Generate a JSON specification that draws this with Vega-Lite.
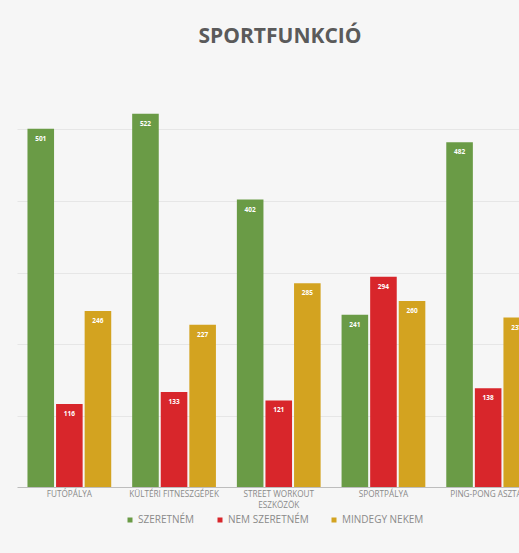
{
  "$schema": "https://vega.github.io/schema/vega-lite/v6.json",
  "autosize": {"type": "none"},
  "width": 502,
  "height": 429,
  "padding": {"left": 17, "top": 58, "right": 0, "bottom": 66},
  "background": "#f6f6f6",
  "config": {"view": {"stroke": null}},
  "title": {
    "text": "SPORTFUNKCIÓ",
    "font": "Open Sans",
    "fontSize": 21,
    "fontWeight": "bold",
    "color": "#5a5a5a",
    "anchor": "middle",
    "dx": 12,
    "offset": 11
  },
  "data": {
    "values": [
      {"kategoria": "FUTÓPÁLYA", "valasz": "SZERETNÉM", "ertek": 501},
      {"kategoria": "FUTÓPÁLYA", "valasz": "NEM SZERETNÉM", "ertek": 116},
      {"kategoria": "FUTÓPÁLYA", "valasz": "MINDEGY NEKEM", "ertek": 246},
      {"kategoria": "KÜLTÉRI FITNESZGÉPEK", "valasz": "SZERETNÉM", "ertek": 522},
      {"kategoria": "KÜLTÉRI FITNESZGÉPEK", "valasz": "NEM SZERETNÉM", "ertek": 133},
      {"kategoria": "KÜLTÉRI FITNESZGÉPEK", "valasz": "MINDEGY NEKEM", "ertek": 227},
      {"kategoria": "STREET WORKOUT ESZKÖZÖK", "valasz": "SZERETNÉM", "ertek": 402},
      {"kategoria": "STREET WORKOUT ESZKÖZÖK", "valasz": "NEM SZERETNÉM", "ertek": 121},
      {"kategoria": "STREET WORKOUT ESZKÖZÖK", "valasz": "MINDEGY NEKEM", "ertek": 285},
      {"kategoria": "SPORTPÁLYA", "valasz": "SZERETNÉM", "ertek": 241},
      {"kategoria": "SPORTPÁLYA", "valasz": "NEM SZERETNÉM", "ertek": 294},
      {"kategoria": "SPORTPÁLYA", "valasz": "MINDEGY NEKEM", "ertek": 260},
      {"kategoria": "PING-PONG ASZTAL", "valasz": "SZERETNÉM", "ertek": 482},
      {"kategoria": "PING-PONG ASZTAL", "valasz": "NEM SZERETNÉM", "ertek": 138},
      {"kategoria": "PING-PONG ASZTAL", "valasz": "MINDEGY NEKEM", "ertek": 237}
    ]
  },
  "encoding": {
    "x": {
      "field": "kategoria",
      "type": "nominal",
      "sort": null,
      "scale": {"range": [0, 523.5], "paddingInner": 0.2, "paddingOuter": 0.1},
      "axis": {
        "title": null,
        "labelAngle": 0,
        "labelFont": "Open Sans",
        "labelFontSize": 8.2,
        "labelColor": "#8a8a8a",
        "labelPadding": 3,
        "labelLineHeight": 11,
        "labelExpr": "datum.value == 'STREET WORKOUT ESZKÖZÖK' ? ['STREET WORKOUT', 'ESZKÖZÖK'] : datum.value",
        "ticks": false,
        "domainColor": "#bdbdbd",
        "domainWidth": 1,
        "grid": false
      }
    },
    "xOffset": {
      "field": "valasz",
      "type": "nominal",
      "sort": ["SZERETNÉM", "NEM SZERETNÉM", "MINDEGY NEKEM"],
      "scale": {"paddingInner": 0.07, "paddingOuter": 0}
    },
    "y": {
      "field": "ertek",
      "type": "quantitative",
      "scale": {"domain": [0, 600], "nice": false},
      "axis": {
        "title": null,
        "labels": false,
        "ticks": false,
        "domain": false,
        "grid": true,
        "values": [100, 200, 300, 400, 500],
        "gridColor": "#e6e6e6",
        "gridWidth": 1
      }
    }
  },
  "layer": [
    {
      "mark": {"type": "bar"},
      "encoding": {
        "color": {
          "field": "valasz",
          "type": "nominal",
          "sort": ["SZERETNÉM", "NEM SZERETNÉM", "MINDEGY NEKEM"],
          "scale": {
            "domain": ["SZERETNÉM", "NEM SZERETNÉM", "MINDEGY NEKEM"],
            "range": ["#6a9b46", "#d8262b", "#d3a320"]
          },
          "legend": {
            "title": null,
            "orient": "none",
            "direction": "horizontal",
            "legendX": 108,
            "legendY": 457,
            "symbolType": "square",
            "symbolSize": 25,
            "symbolStrokeWidth": 0,
            "labelFont": "Open Sans",
            "labelFontSize": 10,
            "labelColor": "#8a8a8a",
            "labelOffset": 3,
            "columnPadding": 20
          }
        }
      }
    },
    {
      "mark": {
        "type": "text",
        "baseline": "top",
        "dy": 7,
        "font": "Open Sans",
        "fontSize": 6.5,
        "fontWeight": "bold",
        "color": "#ffffff"
      },
      "encoding": {
        "text": {"field": "ertek", "type": "quantitative"}
      }
    }
  ]
}
